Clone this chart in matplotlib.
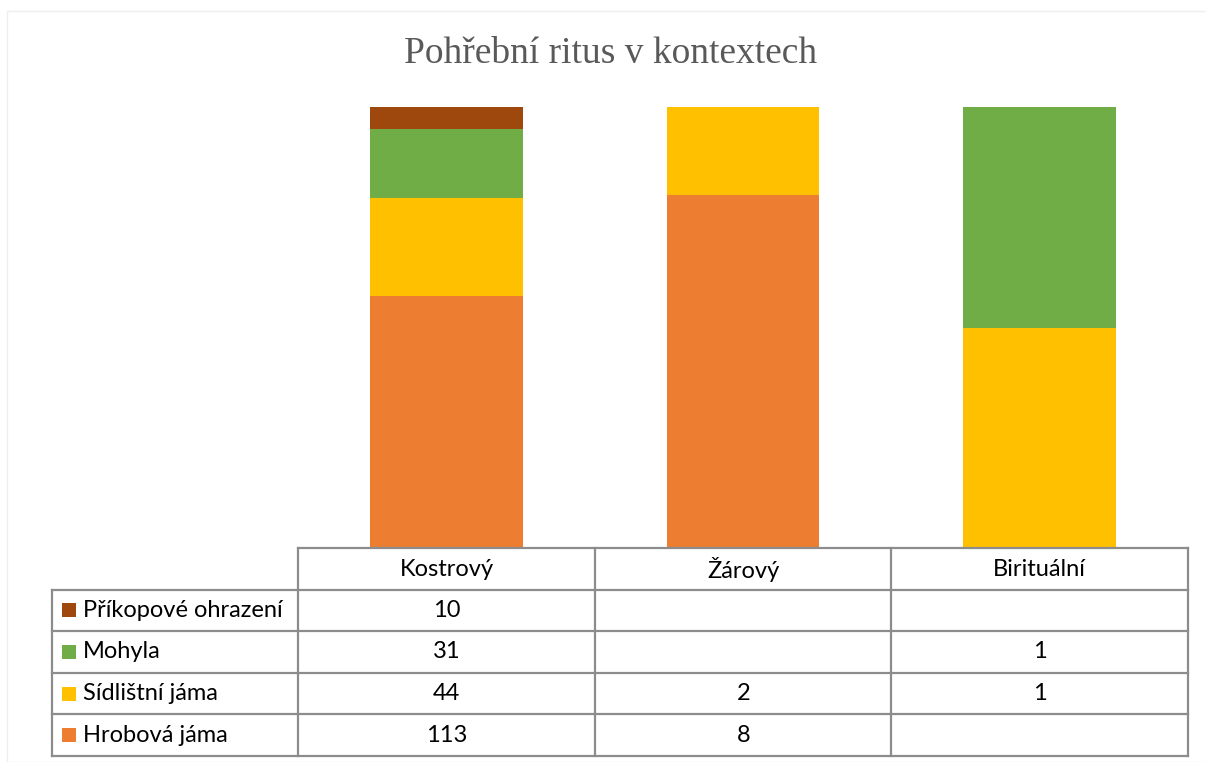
import matplotlib.pyplot as plt
from matplotlib.patches import Rectangle

categories = ["Kostrový", "Žárový", "Birituální"]
series = ["Příkopové ohrazení", "Mohyla", "Sídlištní jáma", "Hrobová jáma"]
prikop = [10, 0, 0]
mohyla = [31, 0, 1]
sidliste = [44, 2, 1]
hrob = [113, 8, 0]
colors = {"Hrobová jáma": "#ED7D31", "Sídlištní jáma": "#FFC000",
          "Mohyla": "#70AD47", "Příkopové ohrazení": "#9E480E"}

W, H = 1206, 762
fig = plt.figure(figsize=(W / 100, H / 100), dpi=100)

# faint chart frame
fig.patches.append(Rectangle((7 / W, 0), 1.2, 1 - 11 / H, transform=fig.transFigure,
                             fill=False, edgecolor="#EEEEEE", linewidth=1))

fig.text(611 / W, 1 - 54 / H, "Pohřební ritus v kontextech", ha="center", va="center",
         fontsize=27, family="Liberation Serif", color="#595959")

# stacked 100% columns
ax = fig.add_axes([298 / W, 1 - 548 / H, 890 / W, 441 / H])
data = {"Hrobová jáma": hrob, "Sídlištní jáma": sidliste, "Mohyla": mohyla,
        "Příkopové ohrazení": prikop}
totals = [sum(v) for v in zip(hrob, sidliste, mohyla, prikop)]
bottom = [0.0] * len(categories)
for name in ["Hrobová jáma", "Sídlištní jáma", "Mohyla", "Příkopové ohrazení"]:
    share = [v / t for v, t in zip(data[name], totals)]
    ax.bar(range(len(categories)), share, width=0.514, bottom=bottom,
           color=colors[name], linewidth=0)
    bottom = [b + s for b, s in zip(bottom, share)]
ax.set_xlim(-0.5, len(categories) - 0.5)
ax.set_ylim(0, 1)
ax.axis("off")

# data table
label_w = 246 / 296
tx = fig.add_axes([52 / W, 1 - 756 / H, 1136 / W, 208 / H])
tx.set_xlim(-0.5 - label_w, len(categories) - 0.5)
tx.set_ylim(len(series) + 1, 0)
tx.axis("off")
lc = "#8C8C8C"
lw = 1.6
n = len(categories)
left = -0.5 - label_w
# horizontal lines
tx.plot([-0.5, n - 0.5], [0, 0], color=lc, lw=lw, clip_on=False)
for r in range(1, len(series) + 2):
    tx.plot([left, n - 0.5], [r, r], color=lc, lw=lw, clip_on=False)
# vertical lines
tx.plot([left, left], [1, len(series) + 1], color=lc, lw=lw, clip_on=False)
for c in range(n + 1):
    tx.plot([c - 0.5, c - 0.5], [0, len(series) + 1], color=lc, lw=lw, clip_on=False)

font = dict(family="Lato", fontsize=17, color="#000000")
for i, cat in enumerate(categories):
    tx.text(i, 0.52, cat, ha="center", va="center", **font)
for r, name in enumerate(series):
    y = r + 1.5
    tx.add_patch(Rectangle((left + 0.034, y - 0.17), 0.047, 0.34,
                           facecolor=colors[name], edgecolor="none"))
    tx.text(left + 0.105, y, name, ha="left", va="center", **font)
    for i in range(n):
        v = data[name][i]
        if v:
            tx.text(i, y, str(v), ha="center", va="center", **font)

fig.savefig("out.png", dpi=100, facecolor="white")
